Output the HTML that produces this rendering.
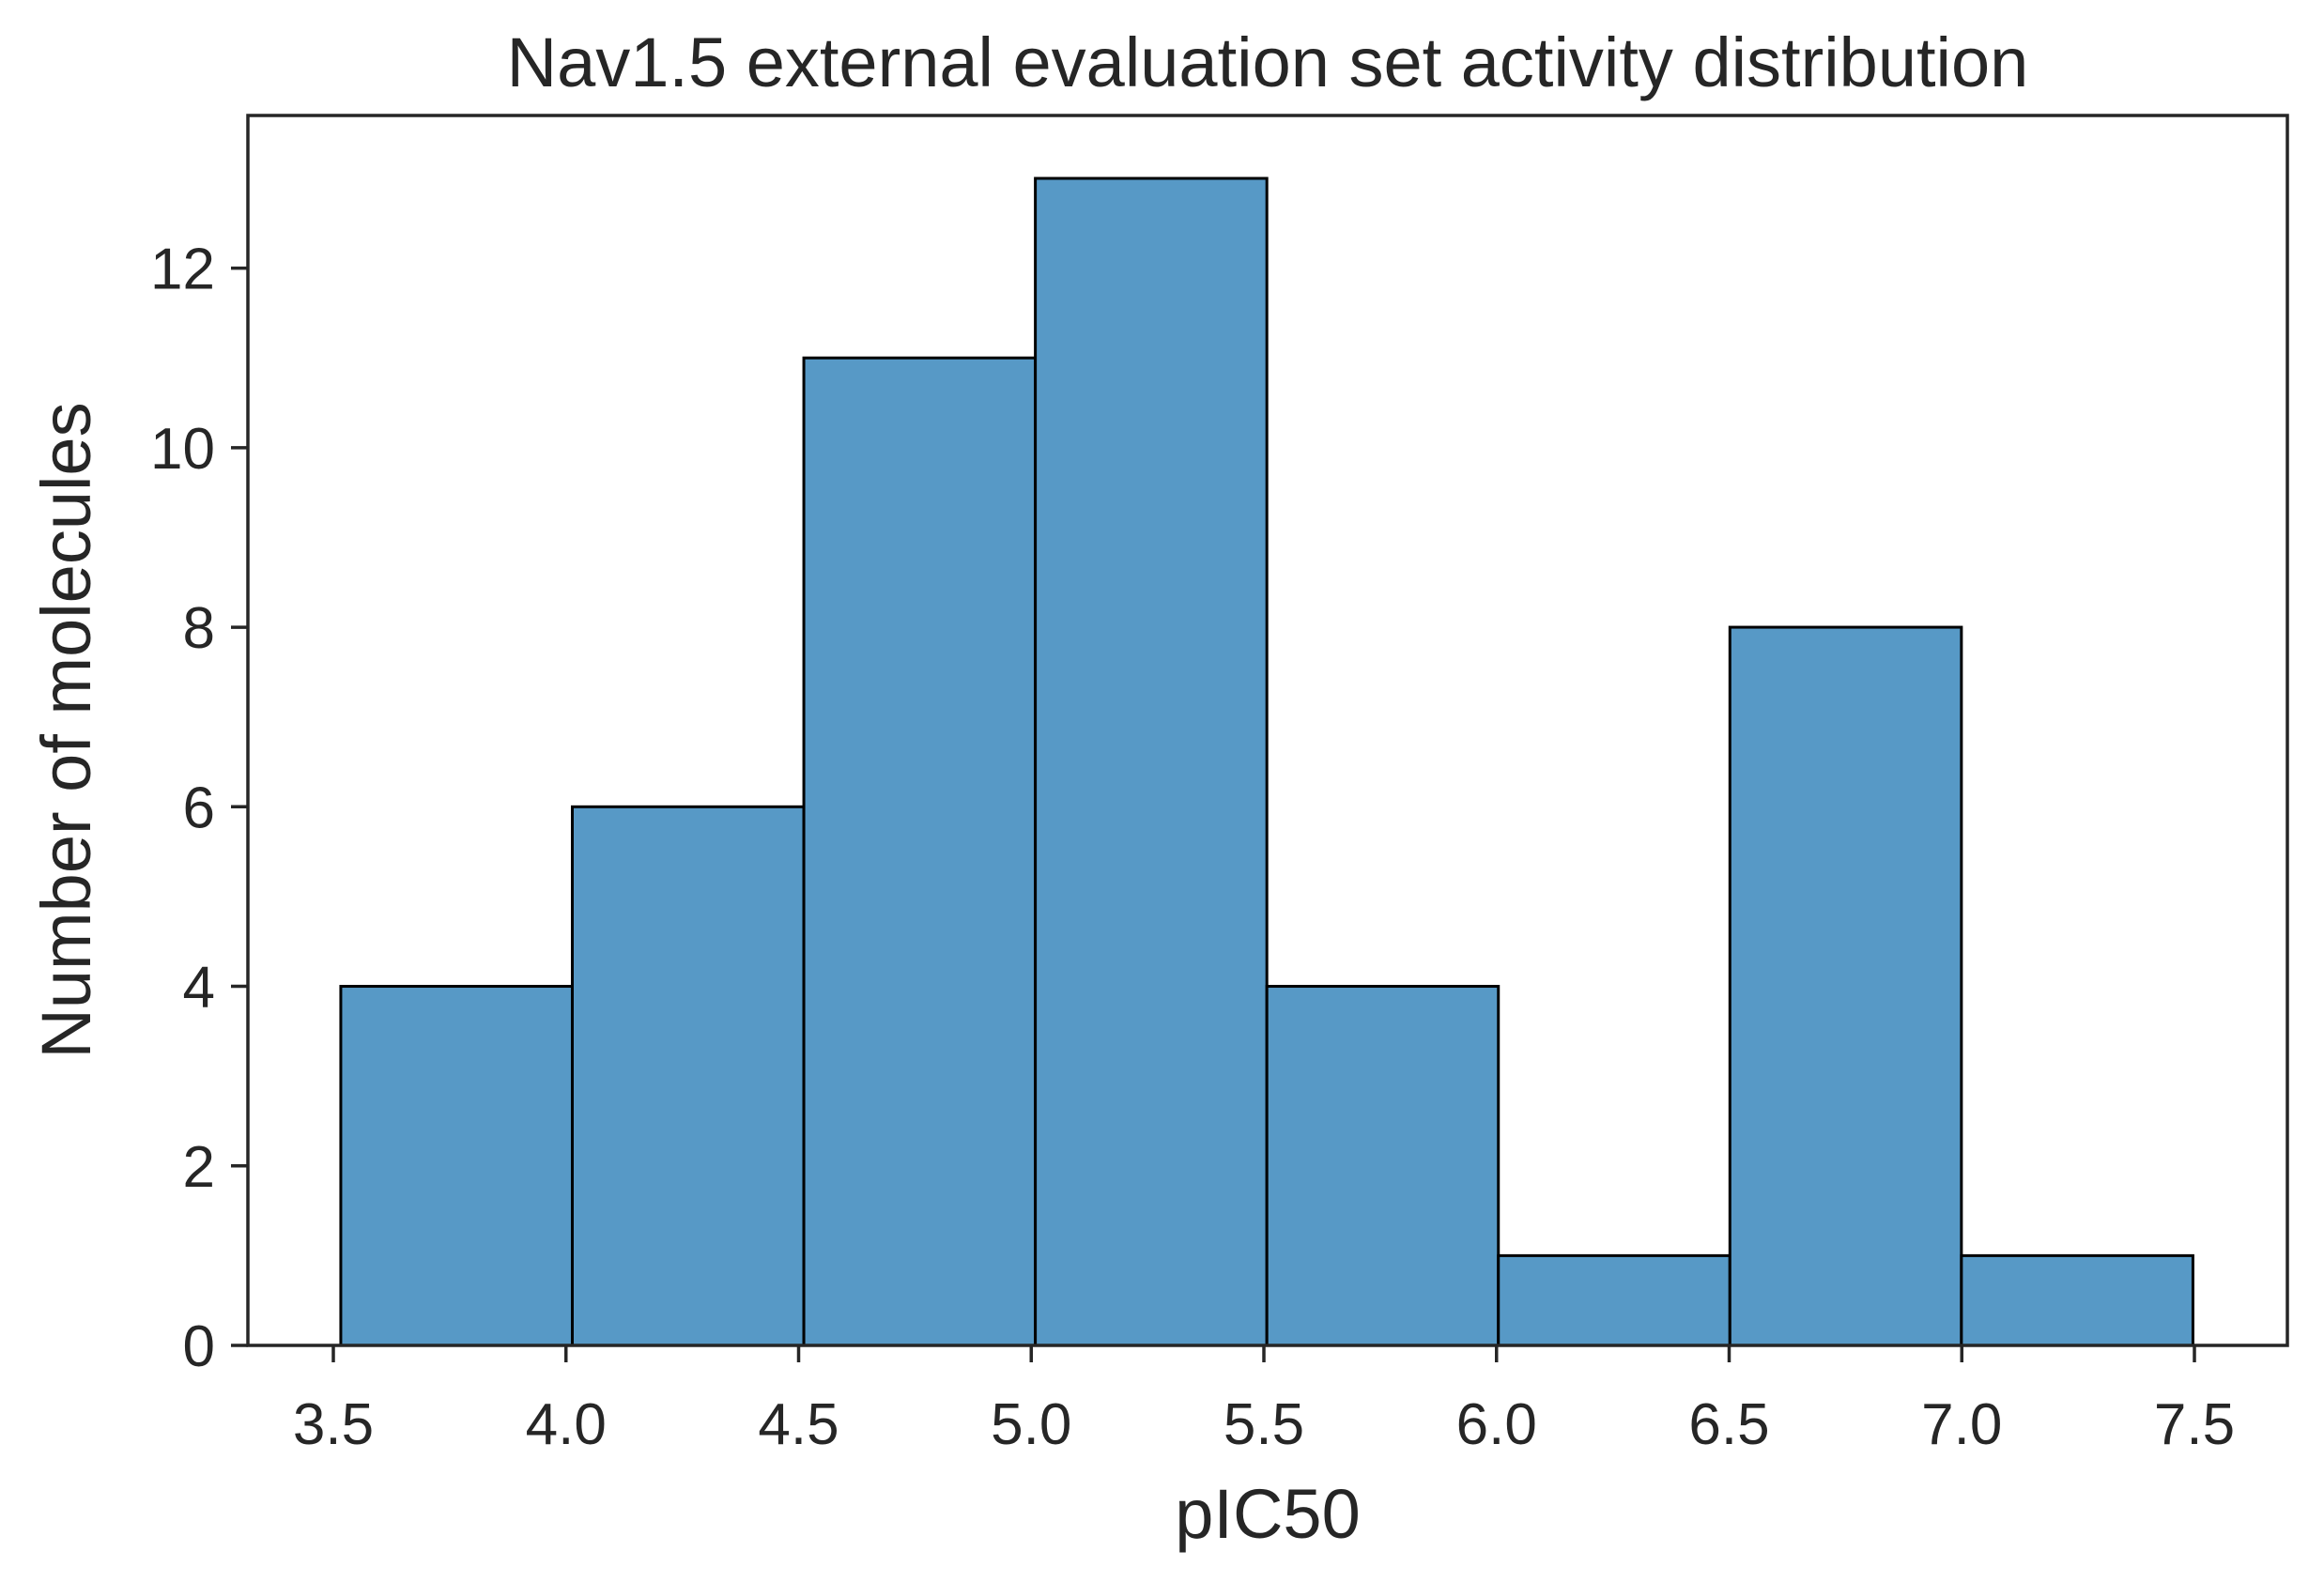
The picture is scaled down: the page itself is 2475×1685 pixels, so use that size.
<!DOCTYPE html>
<html><head><meta charset="utf-8">
<style>html,body{margin:0;padding:0;background:#fff;}svg{display:block;}</style>
</head><body>
<svg id="chart" width="2475" height="1685" viewBox="0 0 2475 1685" xmlns="http://www.w3.org/2000/svg" font-family="'Liberation Sans', Arial, sans-serif">
<rect width="2475" height="1685" fill="#fff"/>
<g id="bars"></g>
<g id="xticks"></g>
<g id="yticks"></g>
<rect x="264" y="123" width="2172" height="1310" fill="none" stroke="#262626" stroke-width="3.5"/>
<text x="1350" y="92" font-size="74" text-anchor="middle" fill="#262626">Nav1.5 external evaluation set activity distribution</text>
<text x="1350" y="1638" font-size="74" text-anchor="middle" fill="#262626">pIC50</text>
<text transform="translate(96,778) rotate(-90)" font-size="74" text-anchor="middle" fill="#262626">Number of molecules</text>
</svg>
<script>
const binStarts = [3.516, 4.0136, 4.5112, 5.0088, 5.5064, 6.004, 6.5016, 6.9992];
const counts = [4, 6, 11, 13, 4, 1, 8, 1];
const binWidth = 0.4976;
const xTickValues = [3.5, 4.0, 4.5, 5.0, 5.5, 6.0, 6.5, 7.0, 7.5];
const xTickLabels = ["3.5","4.0","4.5","5.0","5.5","6.0","6.5","7.0","7.5"];
const yTickValues = [0, 2, 4, 6, 8, 10, 12];
const yTickLabels = ["0","2","4","6","8","10","12"];

const NS = "http://www.w3.org/2000/svg";
function xs(v){ return 355 + (v - 3.5) * (2337 - 355) / 4; }
function ys(v){ return 1433 - v * (1433 - 285.6) / 12; }
function mk(tag, attrs){ const e = document.createElementNS(NS, tag); for (const k in attrs) e.setAttribute(k, attrs[k]); return e; }

const bars = document.getElementById('bars');
binStarts.forEach((b, i) => {
  const x0 = xs(b), x1 = xs(b + binWidth), y = ys(counts[i]);
  const r = mk('rect', {x: x0, y: y, width: x1 - x0, height: ys(0) - y, fill: '#5799c6', stroke: '#000', 'stroke-width': 3});
  
  
  bars.appendChild(r);
});

const xt = document.getElementById('xticks');
xTickValues.forEach((v, i) => {
  const x = xs(v);
  const l = mk('line', {x1: x, x2: x, y1: 1433, y2: 1451, stroke: '#262626', 'stroke-width': 3.5});
  
  
  xt.appendChild(l);
  const t = mk('text', {x: x, y: 1538, 'font-size': 62, 'text-anchor': 'middle', fill: '#262626'});
  t.textContent = xTickLabels[i];
  
  
  xt.appendChild(t);
});

const yt = document.getElementById('yticks');
yTickValues.forEach((v, i) => {
  const y = ys(v);
  const l = mk('line', {x1: 246, x2: 264, y1: y, y2: y, stroke: '#262626', 'stroke-width': 3.5});
  
  
  yt.appendChild(l);
  const t = mk('text', {x: 229, y: y + 22, 'font-size': 62, 'text-anchor': 'end', fill: '#262626'});
  t.textContent = yTickLabels[i];
  
  
  yt.appendChild(t);
});
</script>
</body></html>
